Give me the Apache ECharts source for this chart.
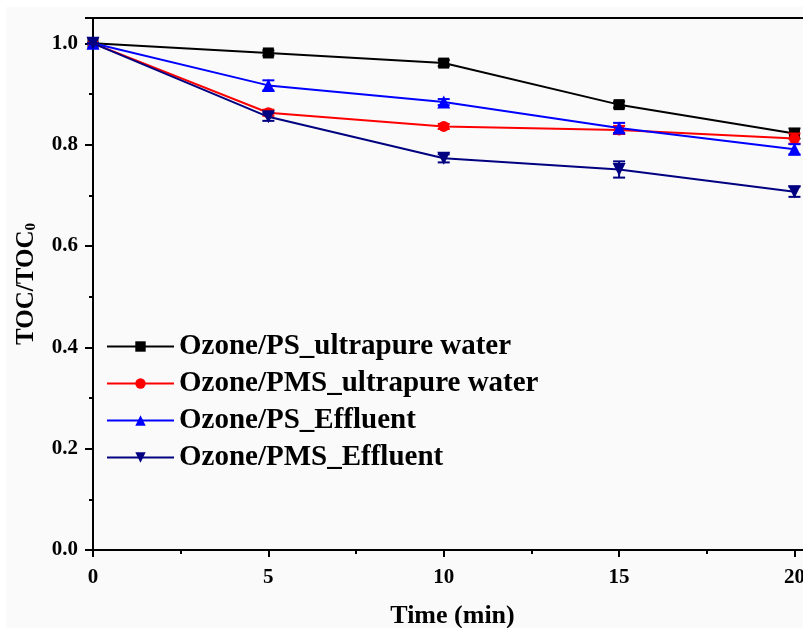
<!DOCTYPE html>
<html><head><meta charset="utf-8">
<script src="https://cdn.jsdelivr.net/npm/echarts@6/dist/echarts.min.js"></script>
<style>html,body{margin:0;padding:0;background:#fff;}#c{width:803px;height:628px;}</style>
</head><body><div id="c"></div>
<script>
const times = [0, 5, 10, 15, 20];
const seriesNames = ['Ozone/PS_ultrapure water', 'Ozone/PMS_ultrapure water', 'Ozone/PS_Effluent', 'Ozone/PMS_Effluent'];
const psUltra = [1.0, 0.981, 0.961, 0.879, 0.822];
const pmsUltra = [1.0, 0.863, 0.836, 0.829, 0.812];
const psEff = [1.0, 0.917, 0.884, 0.833, 0.791];
const pmsEff = [1.0, 0.855, 0.773, 0.751, 0.707];
const psUltraErr = [0, 0.005, 0.006, 0.006, 0.010];
const pmsUltraErr = [0, 0.006, 0.005, 0.008, 0.010];
const psEffErr = [0, 0.010, 0.006, 0.010, 0.010];
const pmsEffErr = [0, 0.008, 0.008, 0.016, 0.010];
const xTicks = [0, 5, 10, 15, 20];
const yTicks = [0.0, 0.2, 0.4, 0.6, 0.8, 1.0];

const colors = ['#000000', '#ff0000', '#0000ff', '#000080'];
const symbols = ['rect', 'circle', 'triangle', 'path://M0,0 L10,0 L5,9 Z'];
const values = [psUltra, pmsUltra, psEff, pmsEff];
const errs = [psUltraErr, pmsUltraErr, psEffErr, pmsEffErr];
const font = "'Liberation Serif','Times New Roman',serif";

const chart = echarts.init(document.getElementById('c'));
const series = [];
values.forEach((v, i) => {
  series.push({
    name: seriesNames[i], type: 'line',
    data: times.map((t, k) => [t, v[k]]),
    symbol: symbols[i], symbolSize: i >= 2 ? 13 : 11,
    lineStyle: {color: colors[i], width: 2},
    itemStyle: {color: colors[i]},
    z: 3 + i
  });
  series.push({
    type: 'custom', silent: true, z: 3 + i,
    data: times.map((t, k) => [t, v[k] - errs[i][k], v[k] + errs[i][k]]),
    renderItem: function (params, api) {
      const lo = api.coord([api.value(0), api.value(1)]);
      const hi = api.coord([api.value(0), api.value(2)]);
      const w = 6;
      const st = {stroke: colors[i], lineWidth: 2};
      return {type: 'group', children: [
        {type: 'line', shape: {x1: lo[0], y1: lo[1], x2: hi[0], y2: hi[1]}, style: st},
        {type: 'line', shape: {x1: lo[0] - w, y1: lo[1], x2: lo[0] + w, y2: lo[1]}, style: st},
        {type: 'line', shape: {x1: hi[0] - w, y1: hi[1], x2: hi[0] + w, y2: hi[1]}, style: st}
      ]};
    }
  });
});

chart.setOption({
  animation: false,
  graphic: [{type: 'rect', shape: {x: 6, y: 7, width: 797, height: 621}, style: {fill: '#fafafa'}, z: -10}],
  grid: {left: 93, top: 18, width: 719, height: 532, outerBoundsMode: 'none', containLabel: false,
    show: true, borderColor: '#000', borderWidth: 2, backgroundColor: 'transparent'},
  legend: {
    orient: 'vertical', left: 101, top: 327, itemWidth: 67, itemHeight: 13, itemGap: 8,
    data: seriesNames,
    textStyle: {fontFamily: font, fontWeight: 'bold', fontSize: 29, color: '#000'}
  },
  xAxis: {
    type: 'value', min: 0, max: 20.5, interval: 5,
    name: 'Time (min)', nameLocation: 'middle', nameGap: 53,
    nameTextStyle: {fontFamily: font, fontWeight: 'bold', fontSize: 26, color: '#000'},
    axisLine: {lineStyle: {color: '#000', width: 2}},
    axisTick: {length: 7, lineStyle: {width: 2}},
    minorTick: {show: true, splitNumber: 2, length: 4, lineStyle: {color: '#000', width: 2}},
    splitLine: {show: false},
    axisLabel: {margin: 17, fontFamily: font, fontWeight: 'bold', fontSize: 21, color: '#000',
      showMaxLabel: false,
      formatter: v => xTicks.indexOf(v) >= 0 ? String(v) : ''}
  },
  yAxis: {
    type: 'value', min: 0, max: 1.05, interval: 0.2,
    name: '{a|TOC/TOC}{b|0}', nameLocation: 'middle', nameGap: 54, nameRotate: 90,
    nameTextStyle: {rich: {
      a: {fontFamily: font, fontWeight: 'bold', fontSize: 25, color: '#000'},
      b: {fontFamily: font, fontWeight: 'bold', fontSize: 15, color: '#000', padding: [10, 0, 0, 0]}
    }},
    axisLine: {lineStyle: {color: '#000', width: 2}},
    axisTick: {length: 8, lineStyle: {width: 2}},
    minorTick: {show: true, splitNumber: 2, length: 4, lineStyle: {color: '#000', width: 2}},
    splitLine: {show: false},
    axisLabel: {margin: 15, fontFamily: font, fontWeight: 'bold', fontSize: 21, color: '#000',
      formatter: v => { const t = yTicks.find(y => Math.abs(y - v) < 1e-9); return t === undefined ? '' : t.toFixed(1); }}
  },
  series: series
});
</script></body></html>
